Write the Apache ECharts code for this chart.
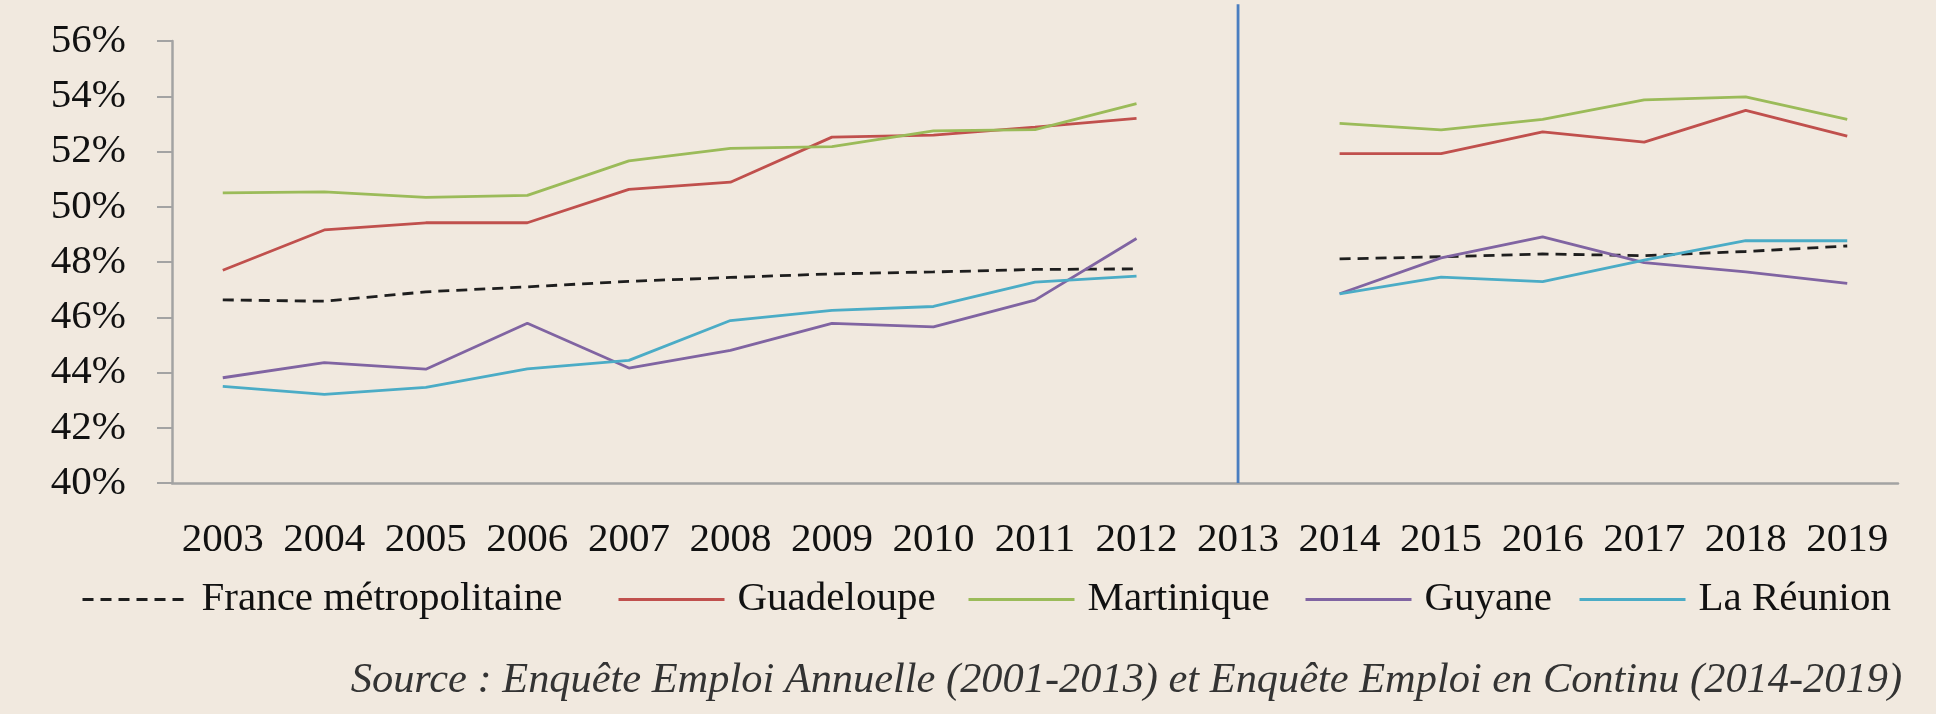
<!DOCTYPE html>
<html>
<head>
<meta charset="utf-8">
<script src="https://cdn.jsdelivr.net/npm/echarts@6/dist/echarts.min.js"></script>
<style>
  html, body { margin: 0; padding: 0; background: #f1e9df; }
  #chart { width: 1936px; height: 714px; }
</style>
</head>
<body>
<div id="chart"></div>
<script>
// years on the x axis, 2013 has no data (survey change)
const years = ['2003', '2004', '2005', '2006', '2007', '2008', '2009', '2010', '2011',
  '2012', '2013', '2014', '2015', '2016', '2017', '2018', '2019']

const franceMetro = [46.63, 46.58, 46.92, 47.10, 47.30, 47.44, 47.57, 47.64, 47.73, 47.75,
  null, 48.11, 48.19, 48.29, 48.23, 48.38, 48.58]
const guadeloupe = [47.70, 49.16, 49.42, 49.42, 50.63, 50.89, 52.52, 52.59, 52.88, 53.20,
  null, 51.92, 51.92, 52.71, 52.34, 53.49, 52.56]
const martinique = [50.50, 50.54, 50.34, 50.41, 51.66, 52.11, 52.18, 52.75, 52.79, 53.73,
  null, 53.02, 52.78, 53.16, 53.87, 53.98, 53.16]
const guyane = [43.81, 44.36, 44.12, 45.78, 44.16, 44.80, 45.78, 45.65, 46.62, 48.85,
  null, 46.85, 48.15, 48.91, 47.98, 47.64, 47.23]
const reunion = [43.50, 43.21, 43.46, 44.13, 44.44, 45.88, 46.25, 46.39, 47.27, 47.49,
  null, 46.85, 47.45, 47.29, 48.07, 48.77, 48.77]

const yTicks = [40, 42, 44, 46, 48, 50, 52, 54, 56]
// separator between the two surveys, goes a bit above the plot
const breakYear = '2013'
const breakRange = [40, 57.33]

const names = ['France métropolitaine', 'Guadeloupe', 'Martinique', 'Guyane', 'La Réunion']
const colors = ['#1e1e1e', '#c0504d', '#9bbb59', '#8064a2', '#4bacc6']
const legendLeft = [76, 612, 962, 1299, 1573]

const font = '"Liberation Serif", "DejaVu Serif", serif'
const axisGrey = '#a3a3a3'

const chart = echarts.init(document.getElementById('chart'))

function lineSeries(i, data) {
  return {
    name: names[i],
    type: 'line',
    data: data,
    symbol: 'none',
    connectNulls: false,
    animation: false,
    itemStyle: { color: colors[i] },
    lineStyle: {
      color: colors[i],
      width: 2.8,
      type: i === 0 ? [11, 7] : 'solid'
    }
  }
}

const series = [
  lineSeries(0, franceMetro),
  lineSeries(1, guadeloupe),
  lineSeries(2, martinique),
  lineSeries(3, guyane),
  lineSeries(4, reunion),
  {
    name: 'rupture',
    type: 'line',
    data: breakRange.map(v => [breakYear, v]),
    symbol: 'none',
    clip: false,
    silent: true,
    animation: false,
    z: 1,
    lineStyle: { color: '#4a7ec0', width: 2.8 }
  }
]

// one legend per item so each sits where it is in the original
const legends = names.map((n, i) => ({
  left: legendLeft[i],
  top: 574,
  itemWidth: 106,
  itemHeight: 14,
  itemStyle: { opacity: 0 },
  lineStyle: { width: 3 },
  textStyle: {
    color: '#111',
    fontSize: 41,
    fontFamily: font,
    padding: [0, 0, 0, 8]
  },
  data: [n]
}))

chart.setOption({
  backgroundColor: '#f1e9df',
  textStyle: { fontFamily: font },
  grid: {
    left: 172,
    right: 38,
    top: 41,
    bottom: 231
  },
  xAxis: {
    type: 'category',
    data: years,
    boundaryGap: true,
    axisLine: { lineStyle: { color: axisGrey, width: 2.5 } },
    axisTick: { length: 14, lineStyle: { color: axisGrey, width: 1.5 } },
    axisLabel: {
      interval: 0,
      margin: 37,
      color: '#111',
      fontSize: 41,
      fontFamily: font
    }
  },
  yAxis: {
    type: 'value',
    min: yTicks[0],
    max: yTicks[yTicks.length - 1],
    interval: 2,
    splitLine: { show: false },
    axisLine: { show: true, lineStyle: { color: axisGrey, width: 2.5 } },
    axisTick: { show: true, length: 15, lineStyle: { color: axisGrey, width: 2 } },
    axisLabel: {
      margin: 46,
      color: '#111',
      fontSize: 41,
      fontFamily: font,
      formatter: v => v + '%'
    }
  },
  legend: legends,
  graphic: [{
    type: 'text',
    right: 34,
    top: 660,
    style: {
      text: 'Source : Enquête Emploi Annuelle (2001-2013) et Enquête Emploi en Continu (2014-2019)',
      fill: '#333',
      font: 'italic 42.4px ' + font
    }
  }],
  series: series
})
</script>
</body>
</html>
